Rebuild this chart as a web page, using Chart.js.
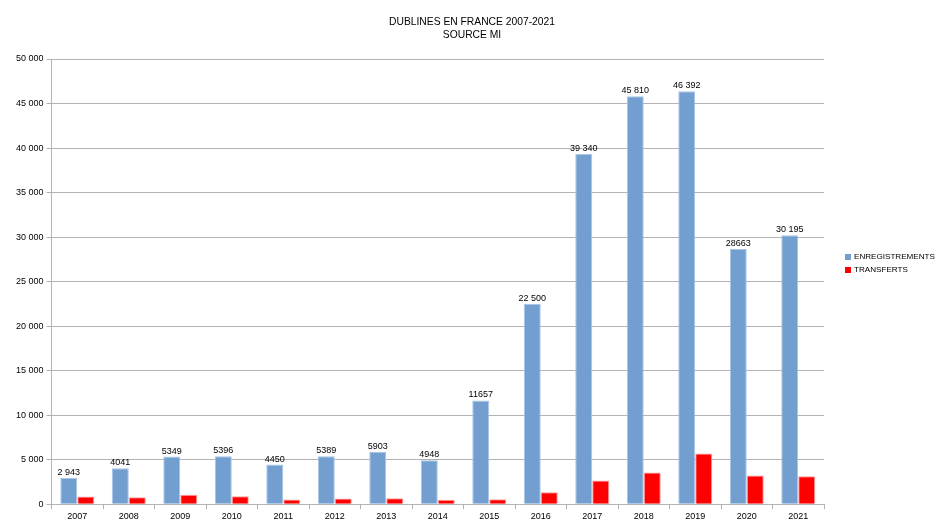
<!DOCTYPE html>
<html>
<head>
<meta charset="utf-8">
<script src="https://cdn.jsdelivr.net/npm/chart.js@4/dist/chart.umd.min.js"></script>
<style>
  body { margin: 0; background: #fff; }
</style>
</head>
<body>
<canvas id="dublinChart" width="944" height="530"></canvas>
<script>
const years = ["2007", "2008", "2009", "2010", "2011", "2012", "2013", "2014", "2015", "2016", "2017", "2018", "2019", "2020", "2021"];
const enregistrements = [2943, 4041, 5349, 5396, 4450, 5389, 5903, 4948, 11657, 22500, 39340, 45810, 46392, 28663, 30195];
const transferts = [870, 790, 1050, 900, 530, 640, 670, 490, 560, 1350, 2660, 3560, 5700, 3220, 3150];
// labels as printed on the source chart (spacing is not consistent there)
const enregLabels = ["2 943", "4041", "5349", "5396", "4450", "5389", "5903", "4948", "11657", "22 500", "39 340", "45 810", "46 392", "28663", "30 195"];
const titleLines = ["DUBLINES EN FRANCE 2007-2021", "SOURCE MI"];

const gridGrey = "#b3b3b3";
const fontFam = "'Liberation Sans', Arial, sans-serif";
Chart.defaults.font.family = fontFam;
Chart.defaults.color = "#000";

// values above the blue bars
const barLabels = {
    id: "barLabels",
    afterDatasetsDraw(chart) {
        const ctx = chart.ctx;
        const meta = chart.getDatasetMeta(0);
        ctx.save();
        ctx.font = "9px " + fontFam;
        ctx.fillStyle = "#000";
        ctx.textAlign = "center";
        ctx.textBaseline = "bottom";
        meta.data.forEach((bar, i) => {
            ctx.fillText(enregLabels[i], bar.x, bar.y - 1);
        });
        ctx.restore();
    }
};

// title centred on the whole page, legend to the right of the plot
const decorations = {
    id: "decorations",
    afterDraw(chart) {
        const ctx = chart.ctx;
        ctx.save();
        ctx.fillStyle = "#000";
        ctx.textBaseline = "middle";
        ctx.textAlign = "center";
        ctx.font = "10.3px " + fontFam;
        titleLines.forEach((t, i) => ctx.fillText(t, chart.width / 2, 22 + i * 13));

        ctx.textAlign = "left";
        ctx.font = "8.1px " + fontFam;
        const x = chart.chartArea.right + 21;
        let y = 257;
        chart.data.datasets.forEach(ds => {
            ctx.fillStyle = ds.backgroundColor;
            ctx.fillRect(x, y - 3, 6, 6);
            ctx.fillStyle = "#000";
            ctx.fillText(ds.label, x + 9, y);
            y += 13;
        });
        ctx.restore();
    }
};

const ctx = document.getElementById("dublinChart").getContext("2d");

new Chart(ctx, {
    type: "bar",
    data: {
        labels: years,
        datasets: [
            {
                label: "ENREGISTREMENTS",
                data: enregistrements,
                backgroundColor: "#729fcf",
                borderColor: "#a8c5e6",
                borderWidth: 1
            },
            {
                label: "TRANSFERTS",
                data: transferts,
                backgroundColor: "#ff0000",
                borderColor: "#ff9a9a",
                borderWidth: 1
            }
        ]
    },
    options: {
        responsive: false,
        animation: false,
        layout: { padding: { top: 59, left: 13, right: 120, bottom: 6 } },
        datasets: { bar: { categoryPercentage: 0.66, barPercentage: 1.0 } },
        scales: {
            x: {
                grid: {
                    offset: true,
                    color: c => (c.index === 0 || c.index === years.length) ? gridGrey : "rgba(0,0,0,0)",
                    tickColor: gridGrey,
                    tickLength: 5
                },
                border: { color: gridGrey },
                ticks: { font: { size: 9 }, padding: 2, maxRotation: 0 }
            },
            y: {
                min: 0,
                max: 50000,
                grid: { color: gridGrey, tickColor: gridGrey, tickLength: 5 },
                border: { color: gridGrey },
                ticks: {
                    stepSize: 5000,
                    font: { size: 9 },
                    padding: 3,
                    callback: v => v === 0 ? "0" : v.toLocaleString("fr-FR").replace(/\s/g, " ")
                }
            }
        },
        plugins: {
            title: { display: false },
            legend: { display: false },
            tooltip: { enabled: false }
        }
    },
    plugins: [barLabels, decorations]
});
</script>
</body>
</html>
